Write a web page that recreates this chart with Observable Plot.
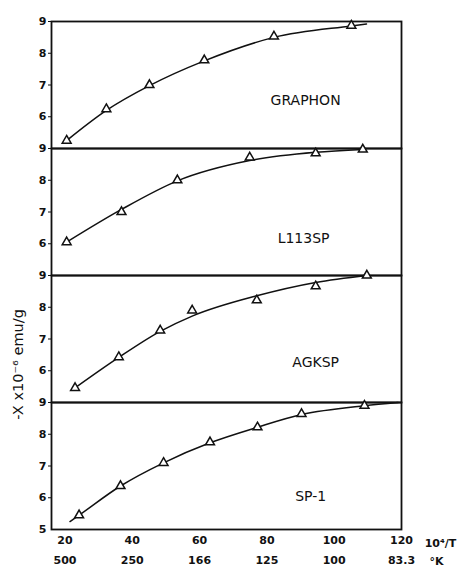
<!DOCTYPE html>
<html><head><meta charset="utf-8">
<script src="https://cdn.jsdelivr.net/npm/d3@7"></script>
<script src="https://cdn.jsdelivr.net/npm/@observablehq/plot@0.6"></script>
<style>body{margin:0;background:#fff}</style>
</head><body><div id="chart"></div>
<script>
const panels = ["GRAPHON", "L113SP", "AGKSP", "SP-1"];
// measured points (triangles)
const graphonX = [20.5, 32.3, 45.1, 61.4, 82.1, 105.1];
const graphonY = [5.25, 6.24, 7.0, 7.78, 8.53, 8.87];
const l113spX = [20.5, 36.8, 53.4, 74.9, 94.5, 108.5];
const l113spY = [6.05, 7.0, 8.0, 8.72, 8.85, 8.97];
const agkspX = [23.0, 36.0, 48.3, 57.8, 77.0, 94.5, 109.7];
const agkspY = [5.46, 6.43, 7.27, 7.9, 8.22, 8.66, 9.0];
const sp1X = [24.2, 36.5, 49.3, 63.1, 77.2, 90.3, 109.0];
const sp1Y = [5.45, 6.37, 7.1, 7.75, 8.22, 8.64, 8.9];
// drawn fit curves
const graphonCurveX = [20.5, 32.3, 45.1, 61.4, 82.1, 105.1, 109.6];
const graphonCurveY = [5.25, 6.2, 6.98, 7.76, 8.5, 8.86, 8.92];
const l113spCurveX = [20.5, 36.8, 53.4, 74.9, 94.5, 108.5];
const l113spCurveY = [6.05, 7.08, 7.98, 8.62, 8.88, 8.97];
const agkspCurveX = [23.0, 36.0, 48.3, 57.8, 77.0, 94.5, 109.7];
const agkspCurveY = [5.46, 6.42, 7.24, 7.72, 8.36, 8.78, 9.0];
const sp1CurveX = [21.5, 24.2, 36.5, 49.3, 63.1, 77.2, 90.3, 109.0, 119.0];
const sp1CurveY = [5.25, 5.45, 6.37, 7.1, 7.73, 8.22, 8.62, 8.9, 9.0];

const xTicks = [20, 40, 60, 80, 100, 120];
const tempLabels = ["500", "250", "166", "125", "100", "83.3"];
const yTicks = [6, 7, 8, 9];
const labelX = [91.5, 90.9, 94.5, 93];
const labelY = [6.5, 6.15, 6.27, 6.05];
const yLabel = "-X x10\u207B\u2076 emu/g";

const series = [[graphonX, graphonY], [l113spX, l113spY], [agkspX, agkspY], [sp1X, sp1Y]];
const curves = [[graphonCurveX, graphonCurveY], [l113spCurveX, l113spCurveY], [agkspCurveX, agkspCurveY], [sp1CurveX, sp1CurveY]];
const rows = [];
series.forEach(([xs, ys], i) => xs.forEach((x, j) => rows.push({panel: panels[i], x, y: ys[j]})));
const curveRows = [];
curves.forEach(([xs, ys], i) => xs.forEach((x, j) => curveRows.push({panel: panels[i], x, y: ys[j]})));

const ink = "#111";
const chart = Plot.plot({
  width: 465, height: 570,
  marginLeft: 51, marginRight: 64, marginTop: 20, marginBottom: 40,
  x: {domain: [16, 120]},
  y: {domain: [5, 9]},
  fy: {domain: panels, padding: 0, axis: null, label: null},
  style: {fontFamily: "DejaVu Sans", fontSize: "11px", color: ink, background: "#fff"},
  marks: [
    Plot.frame({stroke: ink, strokeWidth: 1.8}),
    Plot.line(curveRows, {x: "x", y: "y", fy: "panel", z: "panel", curve: "monotone-x", stroke: ink, strokeWidth: 1.5}),
    Plot.dot(rows, {x: "x", y: "y", fy: "panel", symbol: "triangle", r: 3.3, fill: "white", stroke: ink, strokeWidth: 1.5}),
    Plot.text(panels, {x: labelX, y: labelY, fy: panels, text: d => d, fontSize: 14, fill: ink}),
    Plot.axisY({ticks: yTicks, tickSize: 3, tickPadding: 2, tickFormat: d => String(d), fontWeight: "bold", label: null}),
    Plot.text([5], {y: d => d, fy: ["SP-1"], frameAnchor: "left", dx: -5, textAnchor: "end", fontWeight: "bold", fill: ink}),
    Plot.axisX({ticks: xTicks, tickSize: 0, tickPadding: 7, fontWeight: "bold", label: null}),
    Plot.axisX({ticks: xTicks, tickSize: 0, tickPadding: 27, tickFormat: d => tempLabels[xTicks.indexOf(d)], fontWeight: "bold", label: null}),
    Plot.text(["10\u2074/T"], {fy: ["SP-1"], x: [120], y: [5], dx: 39, dy: 14, fontWeight: "bold", fill: ink}),
    Plot.text(["\u00B0K"], {fy: ["SP-1"], x: [120], y: [5], dx: 35, dy: 32, fontWeight: "bold", fill: ink}),
    Plot.text([yLabel], {fy: ["AGKSP"], y: [6.2], frameAnchor: "left", textAnchor: "middle", dx: -33, rotate: -90, fontSize: 14.5, fill: ink})
  ]
});
document.getElementById("chart").append(chart);
</script>
</body></html>
